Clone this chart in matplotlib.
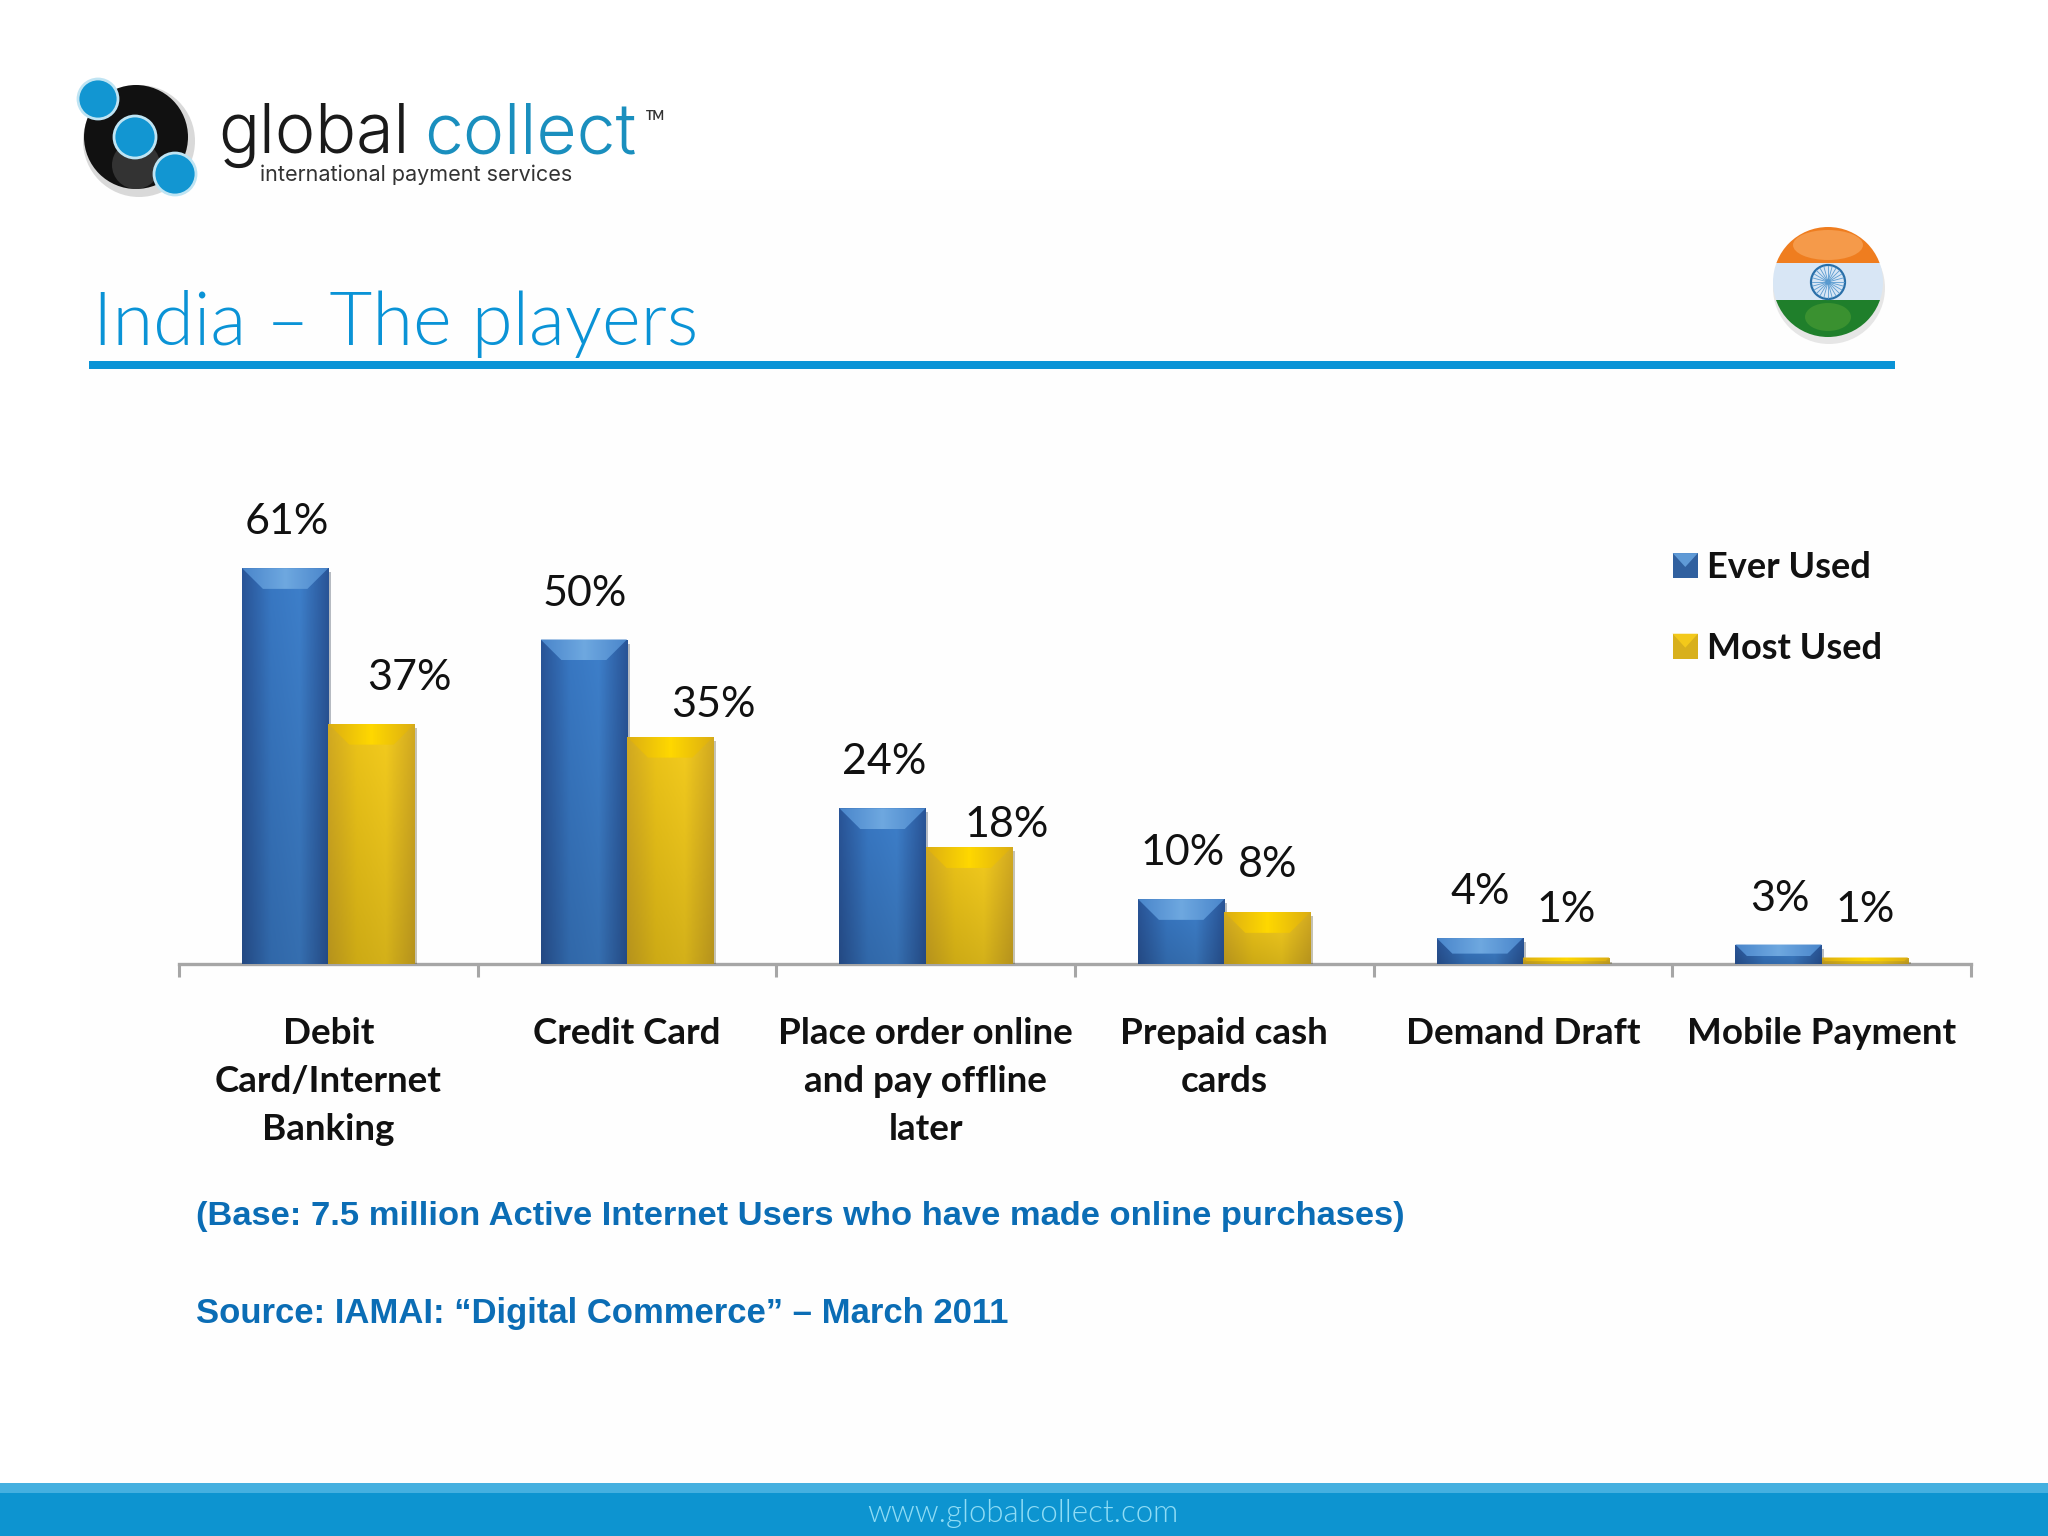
#!/usr/bin/env python3
import matplotlib
matplotlib.use("Agg")
import matplotlib.pyplot as plt
import matplotlib.patheffects as pe
from matplotlib.patches import Circle, Ellipse, Polygon, Rectangle
from matplotlib.colors import LinearSegmentedColormap
from matplotlib.legend_handler import HandlerBase
import numpy as np

categories = ["Debit\nCard/Internet\nBanking", "Credit Card",
              "Place order online\nand pay offline\nlater", "Prepaid cash\ncards",
              "Demand Draft", "Mobile Payment"]
ever_used = [61, 50, 24, 10, 4, 3]
most_used = [37, 35, 18, 8, 1, 1]
series_names = ["Ever Used", "Most Used"]

# label offsets from the top of each bar, in points (they were placed by hand)
ever_offsets = [(1, 33), (1, 33), (1, 33), (1, 33), (0, 33), (1, 33)]
most_offsets = [(27, 33), (31, 23), (27, 16), (0, 34), (0, 34), (0, 34)]

BLUE = "#0a93d6"
TEXT_BLUE = "#0b6db5"
W, H = 2048, 1536
PX_PER_PCT = 6.49
AX_L, AX_R, AX_B, AX_T = 179, 1971, 964, 440

fig = plt.figure(figsize=(W / 100, H / 100), dpi=100, facecolor="white")

# page furniture is drawn in pixel coordinates
bg = fig.add_axes([0, 0, 1, 1])
bg.set_xlim(0, W)
bg.set_ylim(H, 0)
bg.axis("off")

bg.add_patch(Rectangle((80, 190), 1968, 1293, color="#fefefe", lw=0))
bg.add_patch(Rectangle((0, 1483), W, 53, color="#0d94d0", lw=0))
bg.add_patch(Rectangle((0, 1483), W, 10, color="#45b0e0", lw=0))
bg.text(1023, 1513, "www.globalcollect.com", color="#8fdcf5", fontsize=22.5,
        family="Lato", weight=300, ha="center", va="center")

bg.add_patch(Rectangle((89, 361), 1806, 8, color=BLUE, lw=0))
bg.text(93, 345, "India – The players", color=BLUE, fontsize=53.3, family="Lato",
        weight=300, ha="left", va="baseline")

# logo
bg.add_patch(Circle((139, 141), 56, color="#d9d9d9", lw=0))
bg.add_patch(Circle((136, 137), 52, color="#111111", lw=0))
bg.add_patch(Circle((136, 165), 24, color="#555555", lw=0, alpha=0.5))
for cx, cy, r in [(98, 99, 20), (135, 137, 21), (175, 174, 21)]:
    bg.add_patch(Circle((cx, cy), r, facecolor="#1296d2", edgecolor="#bfe4f3", lw=2))
bg.text(218, 153, "global", color="#1a1a1a", fontsize=49, family="Inter", weight=300,
        ha="left", va="baseline")
bg.text(424, 153, "collect", color="#1a8fbe", fontsize=50, family="Inter", weight=300,
        ha="left", va="baseline")
bg.text(646, 120, "TM", color="#333333", fontsize=9, family="Lato", weight="bold",
        ha="left", va="baseline")
bg.text(260, 175, "international payment services", color="#333333", fontsize=15.5,
        family="Inter", ha="left", va="center")

# flag
fc = (1828, 282)
fr = 55
clip = Circle(fc, fr, transform=bg.transData)
bg.add_patch(Circle((fc[0] + 1, fc[1] + 6), fr + 1, color="#e6e6e6", lw=0))
flag_parts = [Rectangle((fc[0] - fr, 227), 2 * fr, 36, color="#ef7d1f", lw=0),
              Rectangle((fc[0] - fr, 263), 2 * fr, 37, color="#d8e6f5", lw=0),
              Rectangle((fc[0] - fr, 300), 2 * fr, 37, color="#1f7f2b", lw=0),
              Ellipse((fc[0], 245), 70, 30, color="#f59a4a", lw=0),
              Ellipse((fc[0], 317), 46, 28, color="#3a9130", lw=0)]
for part in flag_parts:
    bg.add_patch(part)
    part.set_clip_path(clip)
bg.add_patch(Circle(fc, 17, fill=False, edgecolor="#2a6fa8", lw=1.6))
bg.add_patch(Circle(fc, 2.5, color="#2a6fa8", lw=0))
for a in np.deg2rad(np.arange(0, 360, 15)):
    bg.plot([fc[0], fc[0] + 16 * np.cos(a)], [fc[1], fc[1] + 16 * np.sin(a)],
            color="#5a9bd0", lw=0.6)

bg.text(196, 1217, "(Base: 7.5 million Active Internet Users who have made online purchases)",
        color=TEXT_BLUE, fontsize=24.8, family="Liberation Sans", weight="bold",
        ha="left", va="center")
bg.text(196, 1313, "Source: IAMAI: “Digital Commerce” – March 2011",
        color=TEXT_BLUE, fontsize=24.9, family="Liberation Sans", weight="bold",
        ha="left", va="center")

# chart
ax = fig.add_axes([AX_L / W, 1 - AX_B / H, (AX_R - AX_L) / W, (AX_B - AX_T) / H])
ax.patch.set_alpha(0)

x = np.arange(len(categories))
width = 0.289
blue_map = LinearSegmentedColormap.from_list("b", ["#27508f", "#3571b8", "#3a78bf", "#27508f"])
gold_map = LinearSegmentedColormap.from_list("g", ["#c6a01f", "#dfb917", "#e6c01c", "#c6a01f"])
blue_top = LinearSegmentedColormap.from_list("bt", ["#4a86cb", "#6ea8e0", "#4a86cb"])
gold_top = LinearSegmentedColormap.from_list("gt", ["#dcae12", "#ffd800", "#dcae12"])
shadow = [pe.SimplePatchShadow(offset=(2, -3), alpha=0.3), pe.Normal()]


def draw_bars(xs, values, cmap, top_map):
    rects = ax.bar(xs, values, width, color=cmap(0.5), zorder=3, path_effects=shadow)
    across = cmap(np.linspace(0, 1, 64))[None, :, :3]
    down = np.linspace(1.06, 0.92, 64)[:, None, None]
    shade = np.clip(across * down, 0, 1)
    bevel = top_map(np.linspace(0, 1, 64))[None, :, :3]
    for rect in rects:
        l, w, h = rect.get_x(), rect.get_width(), rect.get_height()
        im = ax.imshow(shade, extent=(l, l + w, 0, h), aspect="auto", zorder=3.1)
        im.set_clip_path(rect)
        # bevel along the top of the bar
        dy = min(3.2, h * 0.6)
        dx = 0.07 * dy / 3.2
        trap = Polygon([(l, h), (l + w, h), (l + w - dx, h - dy), (l + dx, h - dy)],
                       lw=0, facecolor="none", zorder=3.2)
        ax.add_patch(trap)
        top = ax.imshow(bevel, extent=(l, l + w, h - dy, h), aspect="auto", zorder=3.2)
        top.set_clip_path(trap)
    return rects


rects_ever = draw_bars(x - width / 2, ever_used, blue_map, blue_top)
rects_most = draw_bars(x + width / 2, most_used, gold_map, gold_top)

for rects, offsets in [(rects_ever, ever_offsets), (rects_most, most_offsets)]:
    for rect, off in zip(rects, offsets):
        ax.annotate(f"{rect.get_height()}%",
                    (rect.get_x() + rect.get_width() / 2, rect.get_height()),
                    xytext=off, textcoords="offset points", ha="center", va="center",
                    fontsize=31, family="Lato", color="#111111", zorder=5)

ax.set_xlim(-0.5, len(categories) - 0.5)
ax.set_ylim(0, (AX_B - AX_T) / PX_PER_PCT)
for side in ["top", "left", "right"]:
    ax.spines[side].set_visible(False)
ax.spines["bottom"].set_color("#a6a6a6")
ax.spines["bottom"].set_linewidth(2.4)
ax.set_yticks([])
ax.set_xticks(x, categories, fontsize=26.5, family="Lato", weight="bold", color="#111111",
              linespacing=1.55, va="top")
ax.set_xticks(np.arange(len(categories) + 1) - 0.5, minor=True)
ax.tick_params(axis="x", which="major", length=0, pad=38.5)
ax.tick_params(axis="x", which="minor", length=9, width=2.2, color="#a6a6a6")


# legend keys carry the same little bevel as the bars
class BevelHandler(HandlerBase):
    def create_artists(self, legend, orig, xd, yd, w, h, fontsize, trans):
        box = Rectangle((xd, yd), w, h, facecolor=orig.get_facecolor(), lw=0, transform=trans)
        notch = Polygon([(xd, yd + h), (xd + w, yd + h), (xd + w / 2, yd + h * 0.45)],
                        facecolor=orig.get_edgecolor(), lw=0, transform=trans)
        return [box, notch]


handles = [Rectangle((0, 0), 1, 1, facecolor="#30609f", edgecolor="#5f9ad6"),
           Rectangle((0, 0), 1, 1, facecolor="#d8b01c", edgecolor="#f3c91a")]
ax.legend(handles, series_names, loc="upper left", bbox_to_anchor=(0.8335, 0.7875),
          frameon=False, prop={"family": "Lato", "weight": "bold", "size": 26},
          labelcolor="#111111", handlelength=0.7, handleheight=0.7, handletextpad=0.25,
          labelspacing=1.32, borderpad=0, borderaxespad=0,
          handler_map={Rectangle: BevelHandler()})

fig.savefig("out.png", dpi=100, facecolor="white")
